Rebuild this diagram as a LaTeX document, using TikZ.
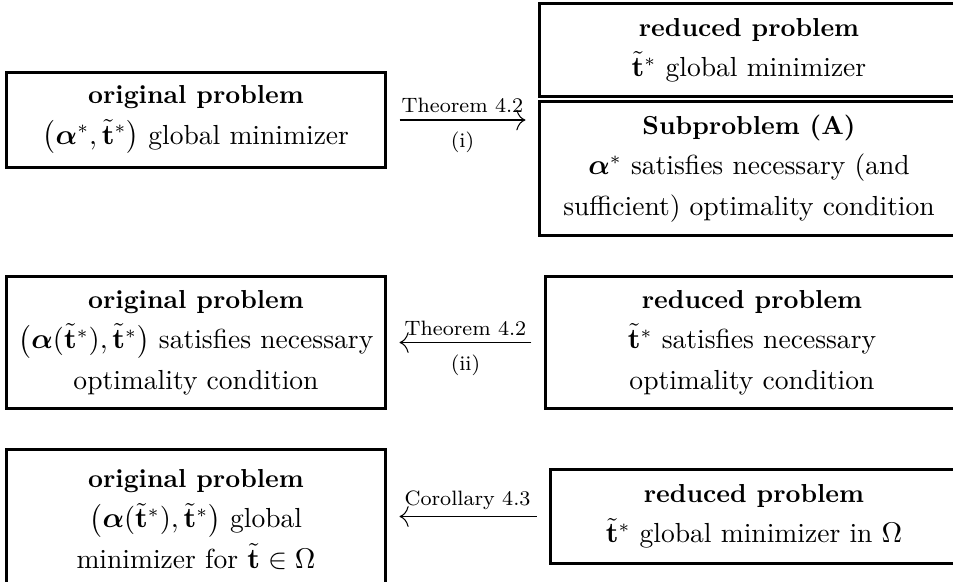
\documentclass[tikz,border=0pt]{standalone}
\usepackage{amsmath,amssymb}
\usetikzlibrary{arrows.meta}
\newcommand{\ptitle}[1]{{\fontsize{10}{16}\selectfont\bfseries #1}}

\begin{document}
\begin{tikzpicture}[x=0.3846pt, y=-0.3846pt,
  prob/.style={draw, line width=1.15pt, align=center, inner sep=0pt, font=\fontsize{10.6}{15.5}\selectfont},
  impl/.style={line width=0.4pt, -{To[length=3.5pt, width=8pt]}},
  lbl/.style={font=\footnotesize, inner sep=2.5pt}]
\useasboundingbox (0, 0) rectangle (953, 581);
\clip (0, 0) rectangle (953, 581);
% first row
\node[prob, minimum width=145.4pt, minimum height=36.2pt] (orig1) at (196, 120)
  {\ptitle{original problem}\\ $\bigl(\boldsymbol{\alpha}^*,\tilde{\mathbf{t}}^*\bigr)$ global minimizer};
\node[prob, minimum width=160.8pt, minimum height=35.4pt] (red1) at (749, 50)
  {\ptitle{reduced problem}\\ $\tilde{\mathbf{t}}^*$ global minimizer};
\node[prob, minimum width=160.8pt, minimum height=51.2pt] (sub1) at (749, 168.5)
  {\ptitle{Subproblem (A)}\\ $\boldsymbol{\alpha}^*$ satisfies necessary (and\\ sufficient) optimality condition};
% second row
\node[prob, minimum width=145.4pt, minimum height=50.4pt] (orig2) at (196, 342.5)
  {\ptitle{original problem}\\ $\bigl(\boldsymbol{\alpha}(\tilde{\mathbf{t}}^*),\tilde{\mathbf{t}}^*\bigr)$ satisfies necessary\\ optimality condition};
\node[prob, minimum width=158.5pt, minimum height=50.4pt] (red2) at (752, 342.5)
  {\ptitle{reduced problem}\\ $\tilde{\mathbf{t}}^*$ satisfies necessary\\ optimality condition};
% third row
\node[prob, minimum width=145.4pt, minimum height=53.5pt] (orig3) at (196, 519.5)
  {\ptitle{original problem}\\ $\bigl(\boldsymbol{\alpha}(\tilde{\mathbf{t}}^*),\tilde{\mathbf{t}}^*\bigr)$ global\\ minimizer for $\tilde{\mathbf{t}}\in\Omega$};
\node[prob, minimum width=156.9pt, minimum height=36.5pt] (red3) at (754, 516.5)
  {\ptitle{reduced problem}\\ $\tilde{\mathbf{t}}^*$ global minimizer in $\Omega$};
% implications
\draw[impl, shorten <=5pt, shorten >=5pt] (orig1.east) -- (orig1.east -| sub1.west)
  node[lbl, midway, above] {Theorem 4.2} node[lbl, midway, below, inner sep=4.5pt] {(i)};
\draw[impl, shorten <=5pt, shorten >=5pt] (red2.west) -- (red2.west -| orig2.east)
  node[lbl, midway, above] {Theorem 4.2} node[lbl, midway, below, inner sep=4.5pt] {(ii)};
\draw[impl, shorten <=4.6pt, shorten >=5pt] (red3.west) -- (red3.west -| orig3.east)
  node[lbl, midway, above] {Corollary 4.3};
\end{tikzpicture}
\end{document}
